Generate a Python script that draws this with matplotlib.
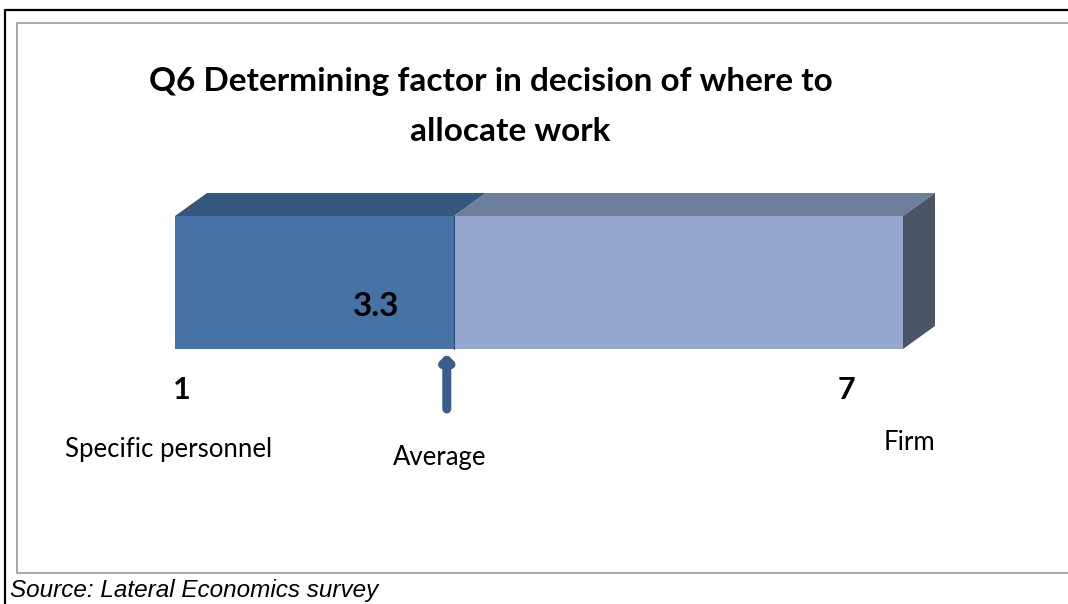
import matplotlib

matplotlib.use("Agg")
import matplotlib.pyplot as plt
from matplotlib.lines import Line2D
from matplotlib.patches import Polygon

# --- survey result on a 1..7 scale ---
scale_min = 1
scale_max = 7
average = 3.3
end_labels = ["1", "7"]
end_names = ["Specific personnel", "Firm"]
avg_name = "Average"
title_lines = ["Q6 Determining factor in decision of where to", "allocate work"]
source = "Source: Lateral Economics survey"

# --- colours ---
FRONT_DARK = "#4672a5"
TOP_DARK = "#35577e"
FRONT_LIGHT = "#95a9d0"
TOP_LIGHT = "#6d7f9c"
SIDE = "#4a5567"
ARROW = "#3a5e8c"
BORDER_IN = "#a0a0a0"

W, H = 1068, 604
fig = plt.figure(figsize=(W / 100, H / 100), dpi=100, facecolor="white")
ax = fig.add_axes([0, 0, 1, 1])
ax.set_axis_off()

# x in scale units (1 -> px 175, 7 -> px 903), y in pixels from top
ppu = (903 - 175) / (scale_max - scale_min)
x0 = scale_min - 175 / ppu
ax.set_xlim(x0, x0 + W / ppu)
ax.set_ylim(H, 0)

FONT = "Lato"

# frame lines
fig.add_artist(Line2D([5.5 / W, 5.5 / W, 1], [0, 1 - 10 / H, 1 - 10 / H],
                      color="black", lw=1.6, transform=fig.transFigure))
fig.add_artist(Line2D([1, 17 / W, 17 / W, 1],
                      [1 - 22.5 / H, 1 - 22.5 / H, 1 - 573 / H, 1 - 573 / H],
                      color=BORDER_IN, lw=1.3, transform=fig.transFigure))

# bar geometry (front face) and 3-D depth
top, bot = 216, 349
dx, dy = 32 / ppu, -23

ax.barh((top + bot) / 2, average - scale_min, height=bot - top, left=scale_min,
        color=FRONT_DARK, edgecolor="none", zorder=3)
ax.barh((top + bot) / 2, scale_max - average, height=bot - top, left=average,
        color=FRONT_LIGHT, edgecolor="none", zorder=3)
ax.plot([average, average], [top, bot], color="#2e4a6e", lw=0.8, zorder=4)

for a, b, c in [(scale_min, average, TOP_DARK), (average, scale_max, TOP_LIGHT)]:
    ax.add_patch(Polygon([(a, top), (b, top), (b + dx, top + dy), (a + dx, top + dy)],
                         closed=True, facecolor=c, edgecolor="none", zorder=3))
ax.add_patch(Polygon([(scale_max, top), (scale_max + dx, top + dy),
                      (scale_max + dx, bot + dy), (scale_max, bot)],
                     closed=True, facecolor=SIDE, edgecolor="none", zorder=3))

# value label inside the bar
ax.text(average - 0.64, 306, f"{average:.1f}", ha="center", va="center",
        fontsize=24, fontweight="bold", family=FONT, zorder=5)

# arrow marking the average
ax.annotate("", xy=(average - 0.06, 354), xytext=(average - 0.06, 409),
            arrowprops=dict(arrowstyle="-|>,head_length=0.3,head_width=0.3",
                            color=ARROW, lw=6.5, capstyle="round",
                            shrinkA=0, shrinkB=0), zorder=5)

# scale end labels
ax.text(scale_min + 0.06, 390, end_labels[0], ha="center", va="center",
        fontsize=22, fontweight="bold", family=FONT)
ax.text(scale_max - 0.47, 390, end_labels[1], ha="center", va="center",
        fontsize=22, fontweight="bold", family=FONT)
ax.text(scale_min - 0.05, 449, end_names[0], ha="center", va="center",
        fontsize=18.5, family=FONT)
ax.text(scale_max + 0.05, 442, end_names[1], ha="center", va="center",
        fontsize=18.5, family=FONT)
ax.text(average - 0.12, 457, avg_name, ha="center", va="center",
        fontsize=18.5, family=FONT)

# title
fig.text(491 / W, 1 - 82 / H, title_lines[0], ha="center", va="center",
         fontsize=24, fontweight="bold", family=FONT)
fig.text(510 / W, 1 - 131 / H, title_lines[1], ha="center", va="center",
         fontsize=24, fontweight="bold", family=FONT)

# source note
fig.text(10 / W, 1 - 590 / H, source, ha="left", va="center",
         fontsize=17.5, style="italic", family="Liberation Sans")

fig.savefig("out.png", dpi=100, facecolor="white")
